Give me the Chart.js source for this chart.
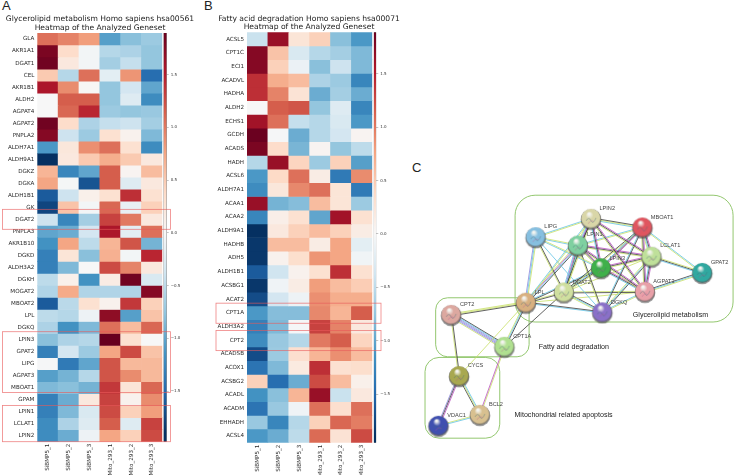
<!DOCTYPE html>
<html>
<head>
<meta charset="utf-8">
<title>Heatmaps and network</title>
<script src="https://cdn.jsdelivr.net/npm/chart.js@4"></script>
<style>
    html, body { margin: 0; padding: 0; background: #fff; }
    body { position: relative; width: 745px; height: 475px; overflow: hidden; }
    canvas { position: absolute; }
    .letter { position: absolute; font: 13px "Liberation Sans", sans-serif; color: #222; }
</style>
</head>
<body>
<div class="letter" style="left:2px;top:-2px">A</div>
<div class="letter" style="left:204px;top:-2px">B</div>
<div class="letter" style="left:412px;top:160px">C</div>
<canvas id="barA" width="40" height="475" style="left:160px;top:0"></canvas>
<canvas id="barB" width="40" height="475" style="left:370px;top:0"></canvas>
<canvas id="heatA" width="200" height="475" style="left:0;top:0"></canvas>
<canvas id="heatB" width="190" height="475" style="left:214px;top:0"></canvas>
<canvas id="network" width="335" height="325" style="left:410px;top:150px"></canvas>
<script>
const samples = ["SiBMP5_1", "SiBMP5_2", "SiBMP5_3", "Mito_293_1", "Mito_293_2", "Mito_293_3"];

const genesA = ["GLA", "AKR1A1", "DGAT1", "CEL", "AKR1B1", "ALDH2", "AGPAT4", "AGPAT2", "PNPLA2", "ALDH7A1", "ALDH9A1", "DGKZ", "DGKA", "ALDH1B1", "GK", "DGAT2", "PNPLA3", "AKR1B10", "DGKD", "ALDH3A2", "DGKH", "MOGAT2", "MBOAT2", "LPL", "DGKQ", "LPIN3", "GPAT2", "LIPG", "AGPAT3", "MBOAT1", "GPAM", "LPIN1", "LCLAT1", "LPIN2"];
const valuesA = [
    [1.05, .95, .8, -1.05, -.8, -.7],
    [1.8, .35, -.05, -.55, -.6, -.75],
    [1.85, .2, -.05, -.65, -.45, -.75],
    [.5, -.55, 1.05, -.2, .85, -1.45],
    [1.55, .9, .02, -.75, -.35, -1.0],
    [0, 1.15, 1.15, -.75, -.25, -1.2],
    [0, 1.1, 1.45, -.7, -.75, -.72],
    [1.85, .35, -.6, -.45, -.4, -.65],
    [1.75, -.4, -.7, .3, .08, -.85],
    [-1.1, .22, .88, 1.05, .3, -1.2],
    [-1.9, .2, .5, .7, .5, .2],
    [.65, -1.25, -1.0, 1.15, .05, .6],
    [.75, -.03, -1.65, 1.15, -.25, .2],
    [-1.6, -.4, .1, .3, 1.4, .3],
    [-1.75, .55, -.05, 1.1, -.15, .45],
    [-.4, -1.25, -.65, 1.3, 1.0, .2],
    [-1.0, -.95, -.35, 1.55, -.2, 1.05],
    [-1.15, .75, -.5, .65, 1.2, -.9],
    [-1.3, .25, -.8, .68, -.05, 1.45],
    [-1.3, -.85, 0, 1.25, .95, .2],
    [-.5, .1, -1.15, .15, 1.85, -.3],
    [-.58, .72, -.58, -.58, -.58, 1.75],
    [-1.6, -.52, .3, .08, 1.35, .45],
    [-.5, -.55, -.1, 1.7, -1.05, .55],
    [-.6, -1.15, -.85, 1.05, .6, 1.1],
    [-.8, -.6, -.55, 1.9, .3, 0],
    [-1.3, -.35, -.7, .75, 1.25, .55],
    [-.02, -1.35, -1.0, 1.2, .62, .62],
    [-1.05, -.9, -.55, 1.2, .9, .62],
    [-.85, -.8, -.9, 1.35, .25, 1.1],
    [-1.3, -.95, .2, 1.3, .08, .9],
    [-1.3, -.85, -.3, 1.25, .45, .8],
    [-1.2, -.6, -.25, 1.15, -.25, 1.3],
    [-1.2, -.95, -.1, .75, .45, 1.25]
];

const genesB = ["ACSL5", "CPT1C", "ECI1", "ACADVL", "HADHA", "ALDH2", "ECHS1", "GCDH", "ACADS", "HADH", "ACSL6", "ALDH7A1", "ACAA1", "ACAA2", "ALDH9A1", "HADHB", "ADH5", "ALDH1B1", "ACSBG1", "ACAT2", "CPT1A", "ALDH3A2", "CPT2", "ACADSB", "ACOX1", "ACSBG2", "ACADL", "ACADM", "EHHADH", "ACSL4"];
const valuesB = [
    [-.42, 1.65, .25, .45, -.8, -1.1],
    [1.75, .55, -.3, -.55, -.65, -.85],
    [1.75, .45, -.12, -.8, -.4, -.85],
    [1.4, .7, .6, -.6, -.7, -1.25],
    [1.4, .95, .27, -.95, -.65, -.95],
    [0, 1.15, 1.2, -.75, -.25, -1.25],
    [1.6, 1.05, -.45, -.55, -.3, -1.1],
    [1.88, -.02, -.95, -.55, -.35, .05],
    [1.8, .35, -.88, .05, -.75, -.5],
    [-.55, 1.65, .42, -.7, .45, -1.05],
    [-1.1, .38, 1.05, .15, -1.35, .9],
    [-1.2, .22, .92, 1.05, .25, -1.35],
    [1.65, -.9, -.82, .6, .25, -.7],
    [-1.25, .12, .3, -1.0, 1.6, .3],
    [-1.9, .2, .45, .6, .45, .15],
    [-1.85, .6, .6, .15, .75, -.2],
    [-1.85, .08, .33, .85, .75, -.07],
    [-1.6, -.38, .08, .3, 1.4, .3],
    [-1.85, -.08, .15, .8, .6, .48],
    [-1.7, -.35, -.1, .88, .7, .7],
    [-1.1, -.82, -.82, .92, .65, 1.15],
    [-1.3, -.85, -.02, 1.3, .95, .2],
    [-1.2, -.72, -.55, 1.0, 1.15, .42],
    [-1.7, -.7, .32, .65, .88, .6],
    [-1.4, -.85, .18, 1.4, .3, .33],
    [.45, -1.45, -.95, 1.25, .6, .1],
    [-1.15, -.8, .65, 1.65, -.42, .2],
    [-1.4, -.72, -.08, 1.05, .32, 1.05],
    [-.72, -1.25, -.55, .45, 1.1, .98],
    [-1.1, -.95, -.5, 1.08, .28, 1.25]
];

// row ranges of the red boxes
const highlightsA = [[14.67, 16.33], [24.85, 29.9], [30.98, 34]];
const highlightsB = [[19.8, 21.27], [21.8, 23.27]];

const colorbarTicks = [1.5, 1.0, 0.5, 0.0, -0.5, -1.0, -1.5];

const nodeNames = ["LPIN2", "MBOAT1", "LIPG", "LPIN1", "LCLAT1", "LPIN3", "GPAT2", "AGPAT3", "DGAT2", "LPL", "DGKQ", "CPT2", "CPT1A", "CYCS", "BCL2", "VDAC1"];
const nodeX = [592, 647, 532.7, 578, 656.7, 602.7, 711, 649.7, 563, 522.3, 604, 442.3, 499.3, 450.7, 473, 428.7];
const nodeY = [212, 221.3, 231.7, 240.7, 252.7, 265, 270, 290.3, 291, 302, 312.3, 315, 349.3, 380.7, 422.3, 434];
const nodeColors = ["#d9d6a8", "#e0555f", "#86bfe0", "#7fd0a0", "#bfe09a", "#3fb04a", "#30a8a0", "#e8a0a8", "#cfdf9f", "#d8b080", "#8a70c8", "#dca8a0", "#b0e090", "#a8a850", "#d8c090", "#4050b0"];
const labelX = [601, 656, 542, 587.7, 666, 611.7, 720.3, 658.7, 572.3, 531.7, 613.3, 451.7, 508.7, 460, 482.7, 438];
const labelY = [200.7, 210.3, 220.7, 228.7, 241, 254, 258.7, 278.7, 280.7, 291, 301.7, 304.3, 338.3, 369.3, 410.7, 422.7];

// k coexpression, y textmining, b database, m experiments, l homology
const edgeFrom = ["LPIN2", "LPIN2", "LPIN2", "LPIN2", "LPIN2", "LPIN2", "LPIN2", "LPIN2", "MBOAT1", "MBOAT1", "MBOAT1", "MBOAT1", "MBOAT1", "MBOAT1", "MBOAT1", "LIPG", "LIPG", "LIPG", "LIPG", "LIPG", "LPIN1", "LPIN1", "LPIN1", "LPIN1", "LPIN1", "LPIN1", "LPIN3", "LPIN3", "LPIN3", "LPIN3", "LCLAT1", "LCLAT1", "LCLAT1", "LCLAT1", "GPAT2", "AGPAT3", "AGPAT3", "AGPAT3", "DGAT2", "DGAT2", "DGAT2", "LPL", "LPL", "LPL", "LPL", "CPT2", "CPT2", "CYCS", "CYCS", "BCL2", "BCL2"];
const edgeTo = ["MBOAT1", "LIPG", "LPIN1", "LPIN3", "LCLAT1", "AGPAT3", "DGAT2", "LPL", "LPIN1", "LCLAT1", "LPIN3", "AGPAT3", "DGAT2", "DGKQ", "GPAT2", "LPIN1", "LPIN3", "LPL", "DGAT2", "DGKQ", "LPIN3", "LCLAT1", "AGPAT3", "DGAT2", "LPL", "DGKQ", "LCLAT1", "AGPAT3", "DGAT2", "LPL", "AGPAT3", "GPAT2", "DGAT2", "DGKQ", "AGPAT3", "DGAT2", "DGKQ", "LPL", "LPL", "DGKQ", "CPT1A", "DGKQ", "CPT2", "CPT1A", "CYCS", "CPT1A", "CYCS", "BCL2", "VDAC1", "VDAC1", "CPT1A"];
const edgeKinds = ["kyb", "yb", "kmby", "mkb", "mky", "mky", "ykb", "yb", "yb", "mkby", "mkb", "mky", "yk", "kb", "by", "yb", "yb", "ybl", "ky", "b", "mky", "mky", "mky", "ykmb", "kbmy", "ky", "mky", "mkb", "ykb", "kb", "mkb", "ykb", "y", "kby", "ybk", "ky", "yb", "y", "ky", "kby", "k", "kb", "kyy", "kby", "y", "kbllly", "ky", "byk", "mkl", "by", "my"];
const kindColors = { k: "#3a3a3a", y: "#c8e066", b: "#62c3e4", m: "#b94fc0", l: "#8c86dc" };

const groupNames = ["Glycerolipid metabolism", "Fatty acid degradation", "Mitochondrial related apoptosis"];
const groupLeft = [510.7, 425.7, 414.3];
const groupRight = [744, 525.7, 494.3];
const groupTop = [186.7, 296.7, 360.7];
const groupBottom = [322.7, 360, 447.3];
const groupRadius = [20, 12, 14];
const groupLabelX = [636.7, 536, 510];
const groupLabelY = [315, 350, 423];

// RdBu_r colour map, the heatmap runs from -1.9 to 1.9
const colorLimit = 1.9;
const colorStops = [[5, 48, 97], [33, 102, 172], [67, 147, 195], [146, 197, 222], [209, 229, 240], [247, 247, 247], [253, 219, 199], [244, 165, 130], [214, 96, 77], [178, 24, 43], [103, 0, 31]];

function valueColor(value) {
    const t = Math.max(0, Math.min(1, (value + colorLimit) / (2 * colorLimit))) * (colorStops.length - 1);
    const i = Math.min(Math.floor(t), colorStops.length - 2);
    const f = t - i;
    const c = colorStops[i].map((v, k) => Math.round(v + (colorStops[i + 1][k] - v) * f));
    return `rgb(${c[0]},${c[1]},${c[2]})`;
}

const heatFont = { family: "'DejaVu Sans'", size: 5.6 };

const redBoxes = {
    id: "redBoxes",
    afterDraw(chart, args, opts) {
        const ctx = chart.ctx;
        const y = chart.scales.y;
        ctx.save();
        ctx.strokeStyle = "rgba(232,90,90,0.75)";
        ctx.lineWidth = 0.8;
        opts.rows.forEach(r => {
            const top = y.getPixelForValue(r[0]);
            ctx.strokeRect(opts.left, top, opts.right - opts.left, y.getPixelForValue(r[1]) - top);
        });
        ctx.restore();
    }
};

function createHeatmap(canvasId, genes, values, rows, boxLeft, boxRight, plotLeft, plotRight, plotTop, plotBottom, title) {
    const canvas = document.getElementById(canvasId);
    const titleHeight = 7.6 * 1.1 * 2 + 1;
    return new Chart(canvas, {
        type: "bar",
        data: {
            labels: samples,
            datasets: genes.map((g, i) => ({
                label: g,
                data: samples.map(() => [i, i + 1]),
                backgroundColor: values[i].map(valueColor),
                borderWidth: 0,
                grouped: false,
                barPercentage: 1,
                categoryPercentage: 1
            }))
        },
        options: {
            responsive: false,
            animation: false,
            layout: { padding: { top: plotTop - titleHeight, right: 0, bottom: 0, left: 0 } },
            plugins: {
                legend: { display: false },
                tooltip: { enabled: false },
                title: {
                    display: true,
                    text: title,
                    color: "#222",
                    font: { family: "'DejaVu Sans'", size: 7.6, weight: "normal", lineHeight: 1.1 },
                    padding: { top: 0, bottom: 1 }
                },
                redBoxes: { rows: rows, left: boxLeft, right: boxRight }
            },
            scales: {
                x: {
                    grid: { display: false, drawTicks: false },
                    border: { display: false },
                    afterFit: s => { s.height = canvas.height - plotBottom; },
                    ticks: { autoSkip: false, minRotation: 90, maxRotation: 90, padding: 2, color: "#2a2a2a", font: heatFont }
                },
                y: {
                    reverse: true,
                    min: 0,
                    max: genes.length,
                    grid: { display: false, drawTicks: false },
                    border: { display: false },
                    afterFit: s => { s.width = plotLeft; },
                    afterBuildTicks: s => { s.ticks = genes.map((g, i) => ({ value: i + 0.5 })); },
                    ticks: { autoSkip: false, padding: 3, color: "#2a2a2a", font: heatFont, callback: v => genes[Math.floor(v)] }
                },
                // empty axis that keeps the title centred over the whole canvas
                spacer: {
                    position: "right",
                    grid: { display: false, drawTicks: false },
                    border: { display: false },
                    ticks: { display: false },
                    afterFit: s => { s.width = canvas.width - plotRight; }
                }
            }
        },
        plugins: [redBoxes]
    });
}

function createColorbar(canvasId, low, high, barLeft, barWidth, plotTop, plotBottom) {
    const canvas = document.getElementById(canvasId);
    return new Chart(canvas, {
        type: "bar",
        data: {
            labels: [""],
            datasets: [{
                data: [[low, high]],
                barPercentage: 1,
                categoryPercentage: 1,
                borderWidth: 0.4,
                borderColor: "#666",
                borderSkipped: false,
                backgroundColor: function (context) {
                    const chart = context.chart;
                    if (!chart.chartArea) return "#f7f7f7";
                    const y = chart.scales.y;
                    const grad = chart.ctx.createLinearGradient(0, y.getPixelForValue(-colorLimit), 0, y.getPixelForValue(colorLimit));
                    colorStops.forEach((c, i) => grad.addColorStop(i / (colorStops.length - 1), `rgb(${c[0]},${c[1]},${c[2]})`));
                    return grad;
                }
            }]
        },
        options: {
            responsive: false,
            animation: false,
            layout: { padding: { top: plotTop, bottom: canvas.height - plotBottom, left: barLeft, right: 0 } },
            plugins: { legend: { display: false }, tooltip: { enabled: false } },
            scales: {
                x: { display: false },
                y: {
                    position: "right",
                    min: low,
                    max: high,
                    border: { display: false },
                    grid: { drawOnChartArea: false, tickLength: 2, color: "#888", lineWidth: 0.5 },
                    afterFit: s => { s.width = canvas.width - barLeft - barWidth; },
                    afterBuildTicks: s => { s.ticks = colorbarTicks.map(v => ({ value: v })); },
                    ticks: {
                        autoSkip: false,
                        padding: 2,
                        color: "#333",
                        font: { family: "'DejaVu Sans'", size: 4 },
                        callback: v => (v < 0 ? "\u2212" : "") + Math.abs(v).toFixed(1)
                    }
                }
            }
        }
    });
}

createColorbar("barA", -1.98, 1.895, 3.5, 3.2, 33, 441.7);
createColorbar("barB", -1.956, 1.89, 3.7, 2.6, 32.3, 442.7);
createHeatmap("heatA", genesA, valuesA, highlightsA, 2.5, 170.5, 37.3, 162.3, 33, 441.7, ["Glycerolipid metabolism Homo sapiens hsa00561", "Heatmap of the Analyzed Geneset"]);
createHeatmap("heatB", genesB, valuesB, highlightsB, 2, 167, 33, 158.3, 32.3, 442.7, ["Fatty acid degradation Homo sapiens hsa00071", "Heatmap of the Analyzed Geneset"]);

// round node picture, passed to Chart.js as the point style
function sphere(color) {
    const c = document.createElement("canvas");
    c.width = 24;
    c.height = 24;
    const g = c.getContext("2d");
    g.fillStyle = "rgba(60,60,60,0.55)";
    g.beginPath();
    g.arc(12, 12.8, 10.4, 0, Math.PI * 2);
    g.fill();
    const grad = g.createRadialGradient(10, 7, 1, 12, 12, 10.5);
    grad.addColorStop(0, "#f4f4f0");
    grad.addColorStop(0.3, color);
    grad.addColorStop(0.82, color);
    grad.addColorStop(1, "rgba(80,80,80,0.9)");
    g.fillStyle = grad;
    g.beginPath();
    g.arc(12, 12, 10, 0, Math.PI * 2);
    g.fill();
    // small protein scribble inside the ball
    g.lineWidth = 0.7;
    g.strokeStyle = "rgba(70,110,120,0.55)";
    g.beginPath();
    g.moveTo(7, 14);
    g.quadraticCurveTo(10, 9, 12, 14);
    g.quadraticCurveTo(14, 18, 17, 11);
    g.stroke();
    g.strokeStyle = "rgba(190,90,150,0.45)";
    g.beginPath();
    g.moveTo(9, 17);
    g.quadraticCurveTo(12, 12, 15, 15);
    g.stroke();
    return c;
}

const edgeDatasets = [];
edgeFrom.forEach((name, e) => {
    const a = nodeNames.indexOf(name);
    const b = nodeNames.indexOf(edgeTo[e]);
    const dx = nodeX[b] - nodeX[a];
    const dy = nodeY[b] - nodeY[a];
    const len = Math.hypot(dx, dy);
    const kinds = edgeKinds[e];
    for (let k = 0; k < kinds.length; k++) {
        const off = (k - (kinds.length - 1) / 2) * 1.1;
        const ox = -dy / len * off;
        const oy = dx / len * off;
        edgeDatasets.push({
            type: "scatter",
            showLine: true,
            order: 1,
            data: [{ x: nodeX[a] + ox, y: nodeY[a] + oy }, { x: nodeX[b] + ox, y: nodeY[b] + oy }],
            borderColor: kindColors[kinds[k]],
            borderWidth: 0.8,
            pointRadius: 0
        });
    }
});

const networkDecor = {
    id: "networkDecor",
    beforeDatasetsDraw(chart) {
        const ctx = chart.ctx;
        const x = chart.scales.x;
        const y = chart.scales.y;
        ctx.save();
        ctx.strokeStyle = "#93c76f";
        ctx.lineWidth = 1;
        groupNames.forEach((n, i) => {
            const left = x.getPixelForValue(groupLeft[i]);
            const top = y.getPixelForValue(groupTop[i]);
            ctx.beginPath();
            ctx.roundRect(left, top, x.getPixelForValue(groupRight[i]) - left, y.getPixelForValue(groupBottom[i]) - top, groupRadius[i]);
            ctx.stroke();
        });
        ctx.restore();
    },
    afterDatasetsDraw(chart) {
        const ctx = chart.ctx;
        const x = chart.scales.x;
        const y = chart.scales.y;
        ctx.save();
        ctx.textBaseline = "middle";
        ctx.textAlign = "left";
        ctx.fillStyle = "#444";
        ctx.font = "5.6px 'Liberation Sans'";
        nodeNames.forEach((n, i) => ctx.fillText(n, x.getPixelForValue(labelX[i]), y.getPixelForValue(labelY[i])));
        ctx.fillStyle = "#222";
        ctx.font = "7.1px 'Liberation Sans'";
        groupNames.forEach((n, i) => ctx.fillText(n, x.getPixelForValue(groupLabelX[i]), y.getPixelForValue(groupLabelY[i])));
        ctx.restore();
    }
};

new Chart(document.getElementById("network"), {
    type: "scatter",
    data: {
        datasets: edgeDatasets.concat([{
            order: 0,
            data: nodeNames.map((n, i) => ({ x: nodeX[i], y: nodeY[i] })),
            pointStyle: nodeColors.map(sphere),
            pointRadius: 10,
            showLine: false
        }])
    },
    options: {
        responsive: false,
        animation: false,
        plugins: { legend: { display: false }, tooltip: { enabled: false } },
        scales: {
            x: { display: false, min: 410, max: 745 },
            y: { display: false, min: 150, max: 475, reverse: true }
        }
    },
    plugins: [networkDecor]
});
</script>
</body>
</html>
